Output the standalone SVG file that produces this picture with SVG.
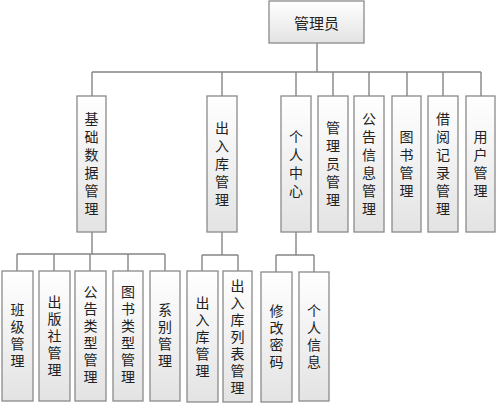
<svg xmlns="http://www.w3.org/2000/svg" width="499" height="406" viewBox="0 0 499 406">
<style>
.box{fill:url(#g);stroke:#8a8a8a;stroke-width:1.3}
.t{font-family:"Noto Sans CJK SC","Liberation Sans",sans-serif;font-size:15px;fill:#222;text-anchor:middle;dominant-baseline:central}
.v{font-family:"Noto Sans CJK SC","Liberation Sans",sans-serif;font-size:14px;fill:#222;text-anchor:middle;writing-mode:vertical-rl;letter-spacing:4px}
.vb{letter-spacing:3px}
.c{fill:none;stroke:#858585;stroke-width:1.4}
</style>
<defs>
<linearGradient id="g" x1="0" y1="0" x2="0" y2="1">
<stop offset="0" stop-color="#ffffff"/>
<stop offset="1" stop-color="#e3e3e3"/>
</linearGradient>
</defs>
<rect width="499" height="406" fill="#fff"/>
<g id="connectors" class="c">
<path d="M317,43V72M92,72H481M92,72V96M222,72V96M296,72V96M333,72V96M369,72V96M407,72V96M443,72V96M481,72V96"/>
<path d="M92,232V254M17,254H165M17,254V271M54,254V271M90,254V271M128,254V271M165,254V271"/>
<path d="M222,232V255M202,255H238M202,255V271M238,255V271"/>
<path d="M296,232V255M276,255H314M276,255V272M314,255V272"/>
</g>
<g id="n-admin"><rect class="box" x="269" y="1" width="95" height="42"/><text class="t" x="316.5" y="22">管理员</text></g>
<g id="n-basic"><rect class="box" x="77" y="96" width="29" height="136"/><text class="v" x="91.5" y="166">基础数据管理</text></g>
<g id="n-io"><rect class="box" x="207" y="96" width="30" height="136"/><text class="v" x="222" y="166">出入库管理</text></g>
<g id="n-center"><rect class="box" x="281" y="96" width="30" height="136"/><text class="v" x="296" y="166">个人中心</text></g>
<g id="n-adminmgr"><rect class="box" x="318" y="96" width="30" height="136"/><text class="v" x="333" y="166">管理员管理</text></g>
<g id="n-notice"><rect class="box" x="354" y="96" width="30" height="136"/><text class="v" x="369" y="166">公告信息管理</text></g>
<g id="n-book"><rect class="box" x="392" y="96" width="29" height="136"/><text class="v" x="406.5" y="166">图书管理</text></g>
<g id="n-borrow"><rect class="box" x="428" y="96" width="30" height="136"/><text class="v" x="443" y="166">借阅记录管理</text></g>
<g id="n-user"><rect class="box" x="466" y="96" width="29" height="136"/><text class="v" x="480.5" y="166">用户管理</text></g>
<g id="n-class"><rect class="box" x="2" y="271" width="31" height="130"/><text class="v vb" x="17.5" y="337">班级管理</text></g>
<g id="n-press"><rect class="box" x="39" y="271" width="31" height="130"/><text class="v vb" x="54.5" y="337">出版社管理</text></g>
<g id="n-noticetype"><rect class="box" x="75" y="271" width="31" height="130"/><text class="v vb" x="90.5" y="336">公告类型管理</text></g>
<g id="n-booktype"><rect class="box" x="113" y="271" width="30" height="130"/><text class="v vb" x="128" y="336">图书类型管理</text></g>
<g id="n-dept"><rect class="box" x="150" y="271" width="30" height="130"/><text class="v vb" x="165" y="337">系别管理</text></g>
<g id="n-io2"><rect class="box" x="187" y="271" width="31" height="131"/><text class="v vb" x="202.5" y="338">出入库管理</text></g>
<g id="n-iolist"><rect class="box" x="223" y="271" width="29" height="131"/><text class="v vb" x="237.5" y="338">出入库列表管理</text></g>
<g id="n-pwd"><rect class="box" x="261" y="272" width="31" height="130"/><text class="v vb" x="276.5" y="338">修改密码</text></g>
<g id="n-info"><rect class="box" x="299" y="272" width="30" height="129"/><text class="v vb" x="314" y="338">个人信息</text></g>
</svg>
